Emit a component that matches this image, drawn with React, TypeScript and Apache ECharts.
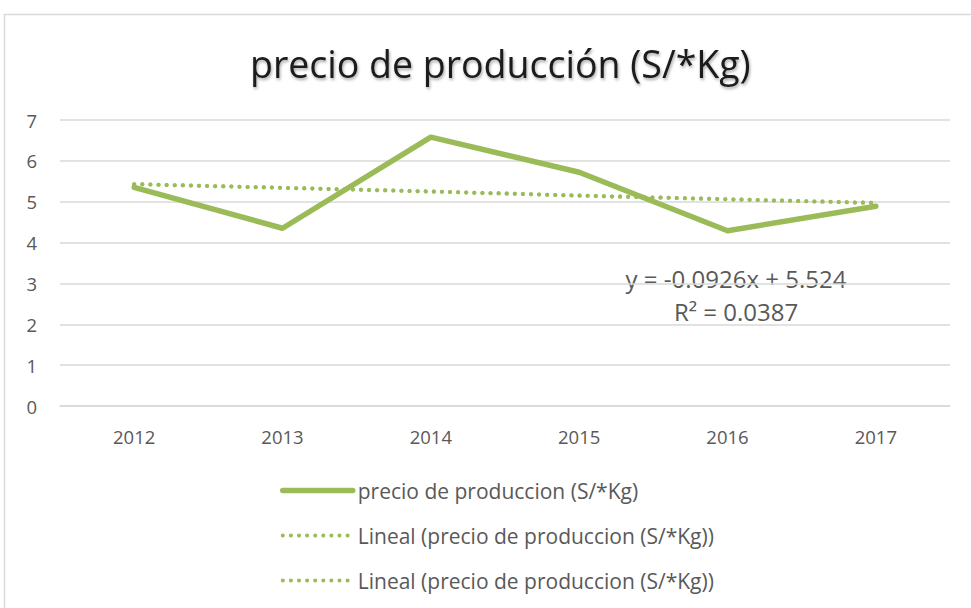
import React, { useEffect, useRef } from "react";
import * as echarts from "echarts";

const categories = ["2012", "2013", "2014", "2015", "2016", "2017"];
const precioValues = [5.35, 4.35, 6.58, 5.72, 4.29, 4.89];
const trendValues = [5.43, 5.34, 5.25, 5.15, 5.06, 4.97];
const seriesNames = [
  "precio de produccion (S/*Kg)",
  "Lineal (precio de produccion (S/*Kg))",
  "Lineal (precio de produccion (S/*Kg))",
];
const titleText = "precio de producción (S/*Kg)";
const equationText = "y = -0.0926x + 5.524";
const r2Text = "R² = 0.0387";

const GREEN = "#9BBB59";
const GREY_TEXT = "#595959";
const FONT = "'Open Sans', 'Noto Sans', sans-serif";
const DOTS = [0.1, 8];

export default function App() {
  const ref = useRef<HTMLDivElement>(null);
  useEffect(() => {
    if (!ref.current) return;
    const chart = echarts.init(ref.current, null, { renderer: "svg" });
    const keys = ["s0", "s1", "s2"];
    chart.setOption({
      animation: false,
      backgroundColor: "#ffffff",
      textStyle: { fontFamily: FONT },
      title: {
        text: titleText,
        left: 245,
        top: 39,
        textStyle: {
          fontFamily: FONT,
          fontSize: 37.5,
          fontWeight: "normal",
          color: "#1a1a1a",
          textShadowColor: "rgba(0,0,0,0.35)",
          textShadowBlur: 3,
          textShadowOffsetX: 1,
          textShadowOffsetY: 2,
        },
      },
      grid: { left: 60, right: 21, top: 120, bottom: 202, containLabel: false },
      xAxis: {
        type: "category",
        data: categories,
        boundaryGap: true,
        axisLine: { show: true, lineStyle: { color: "#d9d9d9", width: 1.5 } },
        axisTick: { show: false },
        axisLabel: { color: GREY_TEXT, fontSize: 18.5, margin: 21, fontFamily: FONT },
      },
      yAxis: {
        type: "value",
        min: 0,
        max: 7,
        interval: 1,
        axisLine: { show: false },
        axisTick: { show: false },
        splitLine: { lineStyle: { color: "#d9d9d9", width: 1.5 } },
        axisLabel: { color: GREY_TEXT, fontSize: 18.5, margin: 23, fontFamily: FONT },
      },
      legend: {
        orient: "vertical",
        left: 275,
        top: 475,
        itemWidth: 70,
        itemHeight: 14,
        itemGap: 24,
        itemStyle: { opacity: 0 },
        data: [
          { name: "s0", itemStyle: { opacity: 0 }, lineStyle: { width: 5.5, cap: "round" } },
          { name: "s1", itemStyle: { opacity: 0 }, lineStyle: { width: 4, type: DOTS, cap: "round" } },
          { name: "s2", itemStyle: { opacity: 0 }, lineStyle: { width: 4, type: DOTS, cap: "round" } },
        ],
        formatter: (name: string) => seriesNames[keys.indexOf(name)],
        textStyle: { color: GREY_TEXT, fontSize: 21, fontFamily: FONT },
        selectedMode: false,
      },
      series: [
        {
          name: "s0",
          type: "line",
          data: precioValues,
          symbol: "none",
          lineStyle: { color: GREEN, width: 5.5, cap: "round", join: "round" },
          itemStyle: { color: GREEN },
          z: 2,
        },
        {
          name: "s1",
          type: "line",
          data: trendValues,
          symbol: "none",
          lineStyle: { color: GREEN, width: 4, type: DOTS, cap: "round" },
          itemStyle: { color: GREEN },
          z: 3,
        },
        {
          name: "s2",
          type: "line",
          data: trendValues,
          symbol: "none",
          lineStyle: { color: GREEN, width: 4, type: DOTS, cap: "round" },
          itemStyle: { color: GREEN },
          z: 3,
        },
      ],
      graphic: [
        {
          type: "rect",
          shape: { x: 4.5, y: 14.5, width: 1000, height: 700 },
          style: { fill: "none", stroke: "#d9d9d9", lineWidth: 1.5 },
          silent: true,
          z: -1,
        },
        {
          type: "text",
          x: 736,
          y: 278,
          style: {
            text: equationText,
            fill: GREY_TEXT,
            font: `24px ${FONT}`,
            align: "center",
            verticalAlign: "middle",
          },
        },
        {
          type: "text",
          x: 736,
          y: 311,
          style: {
            text: r2Text,
            fill: GREY_TEXT,
            font: `24px ${FONT}`,
            align: "center",
            verticalAlign: "middle",
          },
        },
      ],
    });
    return () => chart.dispose();
  }, []);
  return (
    <div
      ref={ref}
      style={{ position: "absolute", left: 0, top: 0, width: 971, height: 608 }}
    />
  );
}
